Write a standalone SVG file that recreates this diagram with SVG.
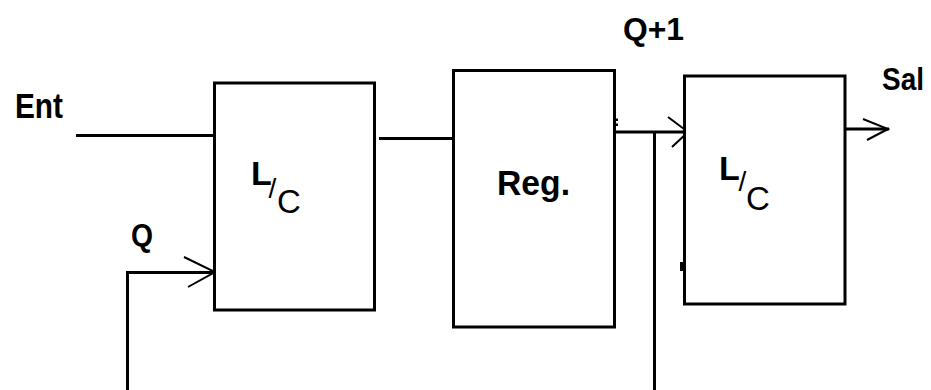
<svg xmlns="http://www.w3.org/2000/svg" width="931" height="390" viewBox="0 0 931 390">
<style>
.box{fill:#fff;stroke:#000;stroke-width:3}
.ln{fill:none;stroke:#000;stroke-width:3}
.ah{fill:none;stroke:#000;stroke-width:2}
.b{font-family:"Liberation Sans",Arial,sans-serif;font-weight:bold;fill:#000}
.r{font-family:"Liberation Sans",Arial,sans-serif;font-weight:normal;fill:#000}
</style>
<rect width="931" height="390" fill="#fff"/>
<g id="connectors">
<line class="ln" x1="76" y1="135.5" x2="218" y2="135.5"/>
<polyline class="ln" points="127.5,390 127.5,272.5 217,272.5"/>
<path class="ah" d="M184,257 L215,272 L188,287"/>
<line class="ln" x1="379" y1="138.5" x2="457" y2="138.5"/>
<line class="ln" x1="614" y1="132" x2="690" y2="132"/>
<line class="ln" x1="654.5" y1="132" x2="654.5" y2="390"/>
<path class="ah" d="M668,117 L688,132 L672,147"/>
<line class="ln" x1="845" y1="129" x2="889" y2="129"/>
<path class="ah" d="M863,119 L888,129 L867,140"/>
</g>
<g id="node-lc1">
<rect class="box" x="214.5" y="83" width="160" height="227"/>
<text class="b" x="251" y="185" font-size="34">L</text>
<text class="r" x="268.5" y="198" font-size="28" fill="#555">/</text>
<text class="r" x="277" y="213" font-size="33">C</text>
</g>
<g id="node-reg">
<rect class="box" x="453.5" y="70.5" width="161" height="256.5"/>
<text class="b" x="497" y="195" font-size="35" textLength="73" lengthAdjust="spacingAndGlyphs">Reg.</text>
<rect x="615" y="118.5" width="3" height="2.5" fill="#000"/>
<rect x="615" y="123.5" width="3" height="2.5" fill="#000"/>
</g>
<g id="node-lc2">
<rect class="box" x="684.5" y="76" width="160.5" height="228"/>
<text class="b" x="719" y="180" font-size="34">L</text>
<text class="r" x="738.5" y="191" font-size="28" fill="#555">/</text>
<text class="r" x="746" y="210" font-size="33">C</text>
<rect x="680" y="262" width="4" height="9" fill="#000"/>
</g>
<g id="labels">
<text class="b" x="15" y="118" font-size="35" textLength="48" lengthAdjust="spacingAndGlyphs">Ent</text>
<text class="b" x="131" y="246" font-size="31" textLength="22" lengthAdjust="spacingAndGlyphs">Q</text>
<text class="b" x="623" y="40" font-size="32" textLength="61" lengthAdjust="spacingAndGlyphs">Q+1</text>
<text class="b" x="882" y="90" font-size="32" textLength="42" lengthAdjust="spacingAndGlyphs">Sal</text>
</g>
</svg>
